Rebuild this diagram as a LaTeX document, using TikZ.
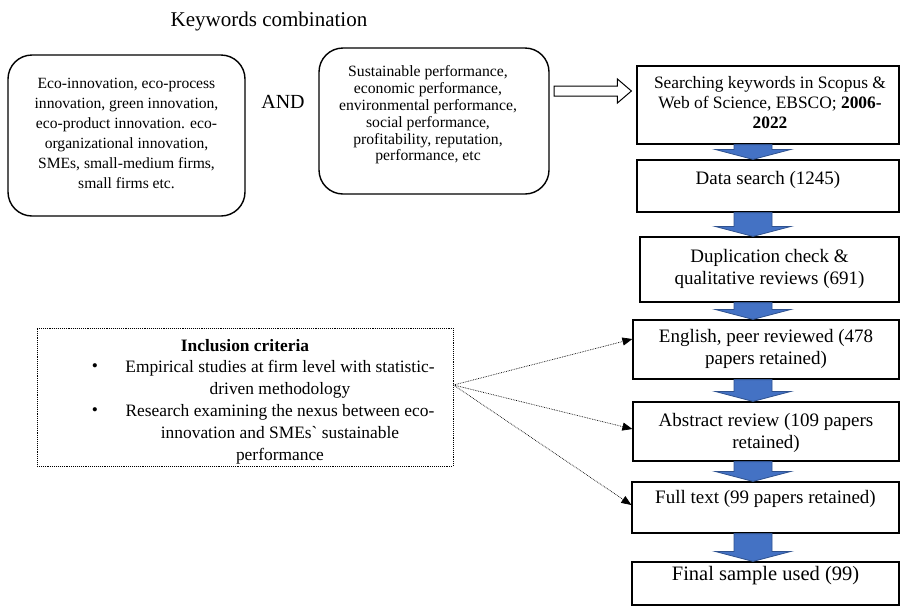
\documentclass[tikz,border=0pt]{standalone}
\usepackage{fontspec}
\setmainfont{Liberation Serif}
\usetikzlibrary{arrows.meta,calc}
\definecolor{arrblue}{HTML}{4472C4}
\definecolor{arredge}{HTML}{2F528F}
\begin{document}
\begin{tikzpicture}[x=1pt,y=1pt,
  fbox/.style={draw, line width=1.2pt, inner sep=0pt},
  rbox/.style={draw, line width=1.4pt, rounded corners=24pt, inner sep=0pt},
  ibox/.style={draw, densely dotted, line width=0.9pt, inner sep=0pt},
  txta/.style={align=center, inner sep=0pt, font=\fontsize{15.6}{20}\selectfont},
  txtb/.style={align=center, inner sep=0pt, font=\fontsize{15.7}{16.8}\selectfont},
  txtc/.style={align=center, inner sep=0pt, font=\fontsize{17.4}{20}\selectfont},
  txtd/.style={align=center, inner sep=0pt, font=\fontsize{19}{22.8}\selectfont},
  txte/.style={align=center, inner sep=0pt, font=\fontsize{17.4}{22}\selectfont},
  blockarr/.style={fill=arrblue, draw=arredge, line width=0.8pt, line join=miter},
  openarr/.style={fill=white, draw=black, line width=1pt, line join=miter},
  darr/.style={densely dotted, line width=0.7pt, -{Triangle[length=10pt,width=8pt]}}
]
\useasboundingbox (0,0) rectangle (902,-611);

% title
\node[inner sep=0pt, font=\fontsize{21}{24}\selectfont] (title) at (269,-21) {Keywords combination};

% keyword boxes
\node[rbox, minimum width=237, minimum height=161] (kw1) at (126.5,-135.5) {};
\node[txta] (kw1t) at (126.5,-133.5) {Eco-innovation, eco-process\\innovation, green innovation,\\eco-product innovation. eco-\\organizational innovation,\\SMEs, small-medium firms,\\small firms etc.};
\node[inner sep=0pt, font=\fontsize{20}{24}\selectfont] (and) at (283,-102) {AND};
\node[rbox, minimum width=230, minimum height=146] (kw2) at (434,-121) {};
\node[txtb] (kw2t) at (428,-115) {Sustainable performance,\\economic performance,\\environmental performance,\\social performance,\\profitability, reputation,\\performance, etc};

% right column boxes
\node[fbox, minimum width=262, minimum height=78] (b1) at (768,-105) {};
\node[txtc] (b1t) at (770,-103) {Searching keywords in Scopus \&\\Web of Science, EBSCO; \textbf{2006-}\\\textbf{2022}};
\node[fbox, minimum width=262, minimum height=52] (b2) at (768,-186) {};
\node[txtd] (b2t) at (768,-180) {Data search (1245)};
\node[fbox, minimum width=259, minimum height=65] (b3) at (769.5,-269.5) {};
\node[txtd] (b3t) at (769.5,-269) {Duplication check \&\\qualitative reviews (691)};
\node[fbox, minimum width=266, minimum height=59] (b4) at (766,-349.5) {};
\node[txtd] (b4t) at (766,-349) {English, peer reviewed (478\\papers retained)};
\node[fbox, minimum width=266, minimum height=59] (b5) at (766,-431.5) {};
\node[txtd] (b5t) at (766,-433) {Abstract review (109 papers\\retained)};
\node[fbox, minimum width=267, minimum height=51] (b6) at (765.5,-507.5) {};
\node[txtd] (b6t) at (765.5,-499) {Full text (99 papers retained)};
\node[fbox, minimum width=267, minimum height=43] (b7) at (765.5,-583.5) {};
\node[inner sep=0pt, font=\fontsize{20.5}{24}\selectfont] (b7t) at (765.5,-576) {Final sample used (99)};

% inclusion criteria box
\node[ibox, minimum width=416, minimum height=138] (incl) at (245,-397) {};
\node[inner sep=0pt, font=\fontsize{17.4}{22}\selectfont\bfseries] (inclt) at (245,-346) {Inclusion criteria};
\node[inner sep=0pt, font=\fontsize{17.4}{22}\selectfont] (bu1) at (95,-368) {\textbullet};
\node[inner sep=0pt, font=\fontsize{17.4}{22}\selectfont] (bu2) at (95,-412) {\textbullet};
\node[txte] (c1) at (280,-379) {Empirical studies at firm level with statistic-\\driven methodology};
\node[txte] (c2) at (280,-434) {Research examining the nexus between eco-\\innovation and SMEs\textasciigrave{} sustainable\\performance};

% open arrow from keyword box to search box
\coordinate (oa) at (554,-91);
\coordinate (ob) at ($(b1.west |- oa)+(-5,0)$);
\draw[openarr] ($(oa)+(0,5)$) -- ($(ob)+(-14,5)$) -- ($(ob)+(-14,12)$) -- (ob)
  -- ($(ob)+(-14,-12)$) -- ($(ob)+(-14,-5)$) -- ($(oa)+(0,-5)$) -- cycle;

% block arrows
\coordinate (ax) at (753,0);
\foreach \u/\l in {b1/b2, b2/b3, b3/b4, b4/b5, b5/b6, b6/b7}{
  \filldraw[blockarr] ($(\u.south -| ax)+(-19,0)$) -- ($(\u.south -| ax)+(19,0)$)
    -- ($(\l.north -| ax)+(19,10)$) -- ($(\l.north -| ax)+(38,10)$)
    -- (\l.north -| ax) -- ($(\l.north -| ax)+(-38,10)$)
    -- ($(\l.north -| ax)+(-19,10)$) -- cycle;
}

% dotted arrows
\coordinate (srcy) at (0,-385);
\coordinate (src) at (incl.east |- srcy);
\coordinate (t4y) at (0,-339);
\coordinate (t5y) at (0,-429);
\coordinate (t6y) at (0,-505);
\draw[darr] (src) -- (b4.west |- t4y);
\draw[darr] (src) -- (b5.west |- t5y);
\draw[darr] (src) -- (b6.west |- t6y);
\end{tikzpicture}
\end{document}
